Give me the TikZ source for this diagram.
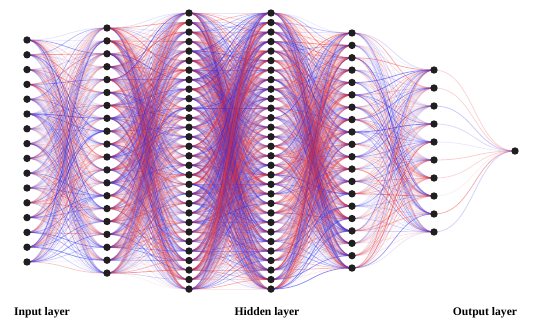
\documentclass[tikz,border=0pt]{standalone}
\usepackage{fontspec}
\setmainfont{Liberation Serif}
\pgfdeclarelayer{bg}
\pgfsetlayers{bg,main}
\definecolor{nred}{RGB}{235,45,45}
\definecolor{nblue}{RGB}{45,45,235}
\tikzset{
  neuron/.style={circle,fill=black!88,inner sep=0pt,minimum size=7.4pt},
  lbl/.style={font=\bfseries\fontsize{11.6}{13}\selectfont},
  syn/.style={line width=0.8pt}
}
\begin{document}
\begin{tikzpicture}[x=1pt,y=-1pt]
\useasboundingbox (0,0) rectangle (546,323);
\foreach \l/\x/\n/\yt/\dy in {1/27/16/40/14.8, 2/107/20/28/12.9, 3/189/30/13/9.52, 4/271/30/13/9.52, 5/352/20/33/12.37, 6/434/10/70/18, 7/515/1/151/0} {
  \foreach \i in {1,...,\n} \node[neuron] (L\l-\i) at (\x, {\yt+(\i-1)*\dy}) {};
}
\begin{pgfonlayer}{bg}
\pgfmathsetseed{7}
\foreach \a/\b/\na/\nb/\h in {1/2/16/20/40, 2/3/20/30/41, 3/4/30/30/41, 4/5/30/20/40.5, 5/6/20/10/41, 6/7/10/1/40.5} {
  \foreach \i in {1,...,\na} {
    \foreach \j in {1,...,\nb} {
      \pgfmathsetmacro\op{0.05+0.6*rnd*rnd}
      \pgfmathrandominteger{\c}{0}{1}
      \ifnum\c=0 \def\col{nred}\else\def\col{nblue}\fi
      \draw[syn, draw=\col, draw opacity=\op] (L\a-\i.center) .. controls +(\h,0) and +(-\h,0) .. (L\b-\j.center);
    }
  }
}
\end{pgfonlayer}
\node[lbl] (tin) at (42,313) {Input layer};
\node[lbl] (thid) at (267,313) {Hidden layer};
\node[lbl] (tout) at (485,313) {Output layer};
\end{tikzpicture}
\end{document}
